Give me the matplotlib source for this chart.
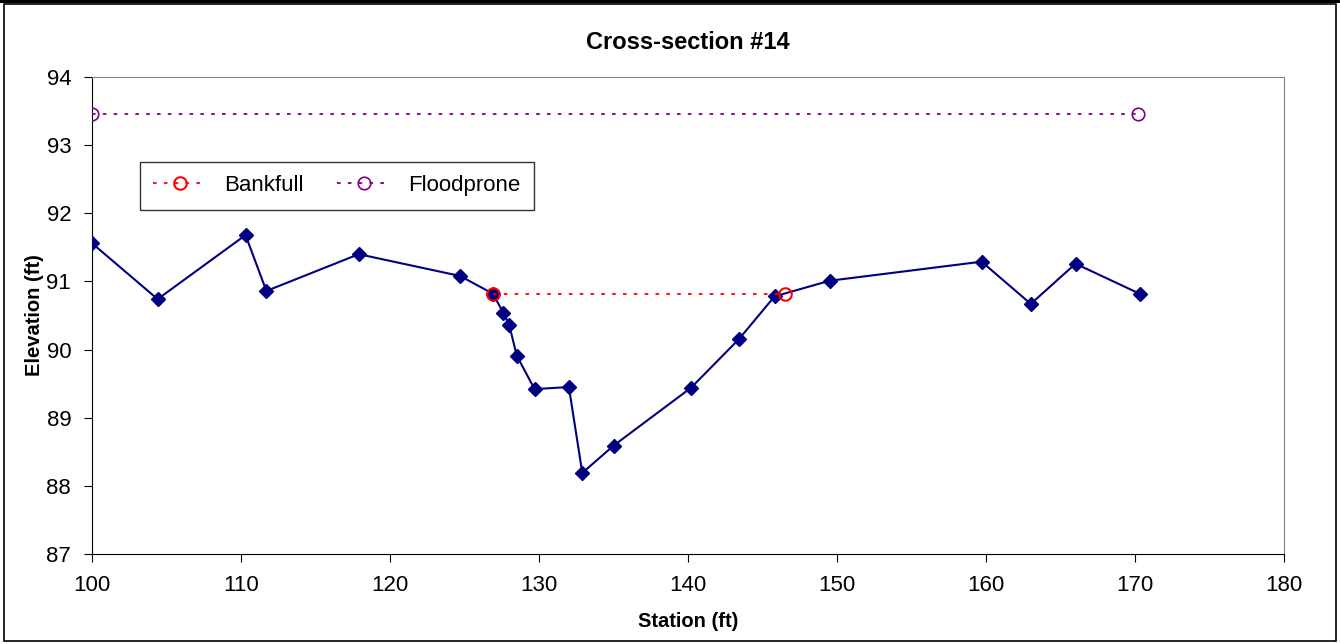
import matplotlib
matplotlib.use("Agg")
import matplotlib.pyplot as plt
from matplotlib.patches import Rectangle

plt.rcParams['font.family'] = ['Liberation Sans', 'DejaVu Sans']

# Surveyed ground profile
station = [100.0, 104.4, 110.3, 111.7, 117.9, 124.7, 126.9, 127.6, 128.0, 128.5,
           129.7, 132.0, 132.9, 135.0, 140.2, 143.4, 145.8, 149.5, 159.7, 163.0,
           166.0, 170.3]
elevation = [91.56, 90.74, 91.68, 90.86, 91.40, 91.08, 90.82, 90.54, 90.36, 89.91,
             89.42, 89.45, 88.19, 88.59, 89.44, 90.15, 90.78, 91.01, 91.29, 90.67,
             91.26, 90.82]

bankfull_x = [126.9, 146.5]
bankfull_y = [90.82, 90.82]
floodprone_x = [100.0, 170.2]
floodprone_y = [93.45, 93.45]

fig = plt.figure(figsize=(13.4, 6.44), dpi=100)
ax = fig.add_axes([0.0687, 0.1398, 0.8896, 0.7406])

ax.plot(station, elevation, color="#000080", lw=1.5, marker="D", ms=7, zorder=3)
ax.plot(bankfull_x, bankfull_y, color="red", ls=(0, (2, 4)), lw=1.3,
        marker="o", ms=9, mfc="none", mec="red", mew=1.5, label="Bankfull", zorder=4)
ax.plot(floodprone_x, floodprone_y, color="purple", ls=(0, (2, 4)), lw=1.3,
        marker="o", ms=9, mfc="none", mec="purple", mew=1.2, label="Floodprone", zorder=4)

ax.set_xlim(100, 180)
ax.set_ylim(87, 94)
ax.set_xticks(range(100, 181, 10))
ax.set_yticks(range(87, 95))
ax.tick_params(direction="out", length=6, labelsize=16, pad=9, colors="black")
for s in ["top", "right"]:
    ax.spines[s].set_color("#808080")
for s in ["left", "bottom"]:
    ax.spines[s].set_color("black")

ax.set_title("Cross-section #14", fontsize=17, fontweight="bold", pad=20)
ax.set_xlabel("Station (ft)", fontsize=14.5, fontweight="bold", labelpad=12)
ax.set_ylabel("Elevation (ft)", fontsize=14.5, fontweight="bold", labelpad=2)

leg = ax.legend(loc="upper left", bbox_to_anchor=(0.04, 0.822), ncol=2, fontsize=16,
                frameon=True, fancybox=False, edgecolor="black", handlelength=2.4,
                handletextpad=0.8, columnspacing=1.5, borderpad=0.6, borderaxespad=0)
leg.get_frame().set_linewidth(1.0)

fig.patches.append(Rectangle((0.003, 0.004), 0.994, 0.99, transform=fig.transFigure,
                             fill=False, edgecolor="black", lw=1.2))
fig.patches.append(Rectangle((0.0, 0.996), 1.0, 0.004, transform=fig.transFigure,
                             facecolor="black", edgecolor="none"))

fig.savefig("out.png", dpi=100)
